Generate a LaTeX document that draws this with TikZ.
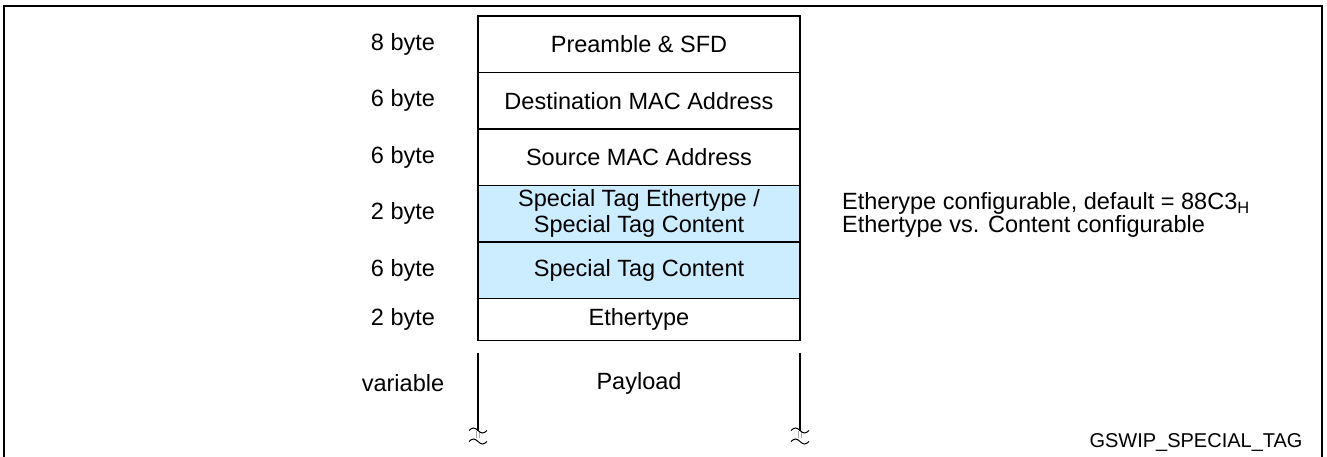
\documentclass[tikz,border=0pt]{standalone}
\usepackage{fontspec}
\setmainfont{Liberation Sans}
\usetikzlibrary{positioning,calc}
\definecolor{tagblue}{HTML}{CCECFF}

\begin{document}
\begin{tikzpicture}[x=1pt,y=-1pt,
  font=\fontsize{23.5}{26}\selectfont,
  field/.style={rectangle, draw=black, line width=1.4pt, minimum width=322pt, minimum height=56.5pt, inner sep=0pt, outer sep=0pt, align=center},
  tagfield/.style={field, fill=tagblue},
  lbl/.style={inner sep=0pt},
  side/.style={line width=1.4pt},
  brk/.style={line width=1pt}]
\useasboundingbox (0,0) rectangle (1327,457);
\draw[line width=1.6pt] (4,470) -- (4,6) -- (1322,6) -- (1322,470);
% frame fields
\node[field, anchor=north] (pre) at (639,16) {Preamble \& SFD};
\node[field, below=0pt of pre] (dst) {Destination MAC Address};
\node[field, below=0pt of dst] (src) {Source MAC Address};
\node[tagfield, below=0pt of src] (stype) {Special Tag Ethertype /\\Special Tag Content};
\node[tagfield, below=0pt of stype] (scont) {Special Tag Content};
\node[field, minimum height=42pt, below=0pt of scont] (etype) {Ethertype};
\node[field, draw=none, minimum height=62pt, below=12pt of etype] (pay) {Payload};
% sizes
\node[lbl] (l1) at ([xshift=-236pt]pre.center) {8 byte};
\node[lbl] (l2) at ([xshift=-236pt]dst.center) {6 byte};
\node[lbl] (l3) at ([xshift=-236pt]src.center) {6 byte};
\node[lbl] (l4) at ([xshift=-236pt]stype.center) {2 byte};
\node[lbl] (l5) at ([xshift=-236pt]scont.center) {6 byte};
\node[lbl] (l6) at ([xshift=-236pt]etype.center) {2 byte};
\node[lbl] (l7) at ([xshift=-236pt]pay.center) {variable};
\node[lbl, anchor=west, align=left, font=\fontsize{23.5}{20}\selectfont] (note) at ([xshift=42pt,yshift=-1pt]stype.east) {Etherype configurable, default = 88C3\textsubscript{H}\\Ethertype vs. Content configurable};
\node[lbl, font=\fontsize{20}{22}\selectfont] (fig) at (1196,443) {GSWIP\_SPECIAL\_TAG};
% payload sides with breaks
\coordinate (brkL) at ([yshift=-16pt]pay.south west);
\coordinate (brkR) at ([yshift=-16pt]pay.south east);
\draw[side] (pay.north west) -- (brkL);
\draw[side] (pay.north east) -- (brkR);
\foreach \c in {brkL,brkR}{
  \draw[gray!70, line width=0.4pt] ([xshift=-1.5pt]\c) -- ++(0,7) ([xshift=1.5pt]\c) -- ++(0,7);
  \draw[brk] ([xshift=-9pt]\c) sin ([xshift=-4.5pt,yshift=2.5pt]\c) cos (\c) sin ([xshift=4.5pt,yshift=-2.5pt]\c) cos ([xshift=9pt]\c);
  \draw[brk] ([xshift=-9pt,yshift=-11pt]\c) sin ([xshift=-4.5pt,yshift=-8.5pt]\c) cos ([yshift=-11pt]\c) sin ([xshift=4.5pt,yshift=-13.5pt]\c) cos ([xshift=9pt,yshift=-11pt]\c);
}
\end{tikzpicture}
\end{document}
